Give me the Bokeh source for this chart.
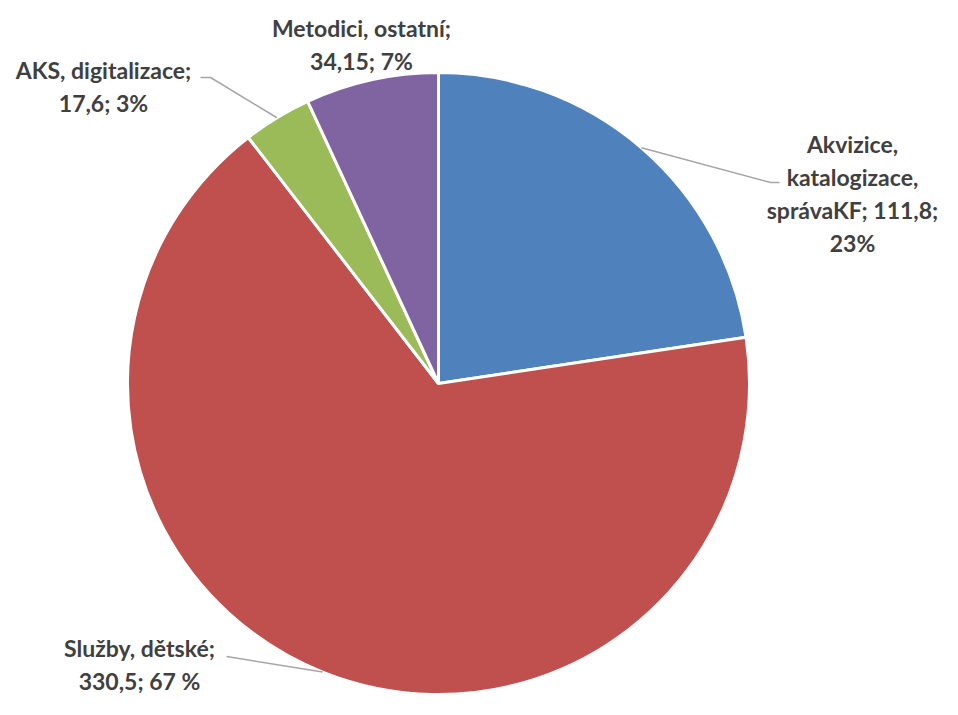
import numpy as np
from bokeh.plotting import figure
from bokeh.models import Range1d, ColumnDataSource
from bokeh.embed import file_html
from bokeh.resources import INLINE
from bokeh.core.properties import value

# ---- data ----
categories = ["Akvizice, katalogizace, správaKF", "Služby, dětské", "AKS, digitalizace", "Metodici, ostatní"]
values = [111.8, 330.5, 17.6, 34.15]
value_labels = ["111,8", "330,5", "17,6", "34,15"]
pct_labels = ["23%", "67 %", "3%", "7%"]
colors = ["#4F81BD", "#C0504D", "#9BBB59", "#8064A2"]

label_texts = [
    "Akvizice,\nkatalogizace,\nsprávaKF; " + value_labels[0] + ";\n" + pct_labels[0],
    "Služby, dětské;\n" + value_labels[1] + "; " + pct_labels[1],
    "AKS, digitalizace;\n" + value_labels[2] + "; " + pct_labels[2],
    "Metodici, ostatní;\n" + value_labels[3] + "; " + pct_labels[3],
]

# ---- layout (pixel coordinates from the top-left of the figure) ----
W, H = 942, 699


def sy(y):
    return H - y


CX, CY, R = 438, sy(383), 311
label_pos = [(852, 193), (139, 664), (103, 86), (361, 44)]
leader_elbows = [[(770, 182), (779, 182)], [(226, 656)], [(210, 77), (200, 77)], None]

p = figure(width=W, height=H, output_backend="svg", toolbar_location=None,
           x_range=Range1d(0, W), y_range=Range1d(0, H),
           min_border=0, outline_line_color=None)
p.axis.visible = False
p.grid.visible = False
p.background_fill_color = "white"
p.border_fill_color = "white"

vals = np.array(values, dtype=float)
frac = vals / vals.sum()
cum = np.concatenate([[0], np.cumsum(frac)])
start = np.pi / 2 - cum[:-1] * 2 * np.pi
end = np.pi / 2 - cum[1:] * 2 * np.pi
mid = (start + end) / 2

src = ColumnDataSource(dict(start=start, end=end, color=colors, cat=categories))
p.wedge(x=CX, y=CY, radius=R, start_angle="start", end_angle="end", direction="clock",
        fill_color="color", line_color="white", line_width=3, source=src)

# leader lines
for i, elbows in enumerate(leader_elbows):
    if not elbows:
        continue
    xs = [CX + R * np.cos(mid[i])] + [e[0] for e in elbows]
    ys = [CY + R * np.sin(mid[i])] + [sy(e[1]) for e in elbows]
    p.line(xs, ys, line_color="#A6A6A6", line_width=1.5)

lsrc = ColumnDataSource(dict(x=[lp[0] for lp in label_pos], y=[sy(lp[1]) for lp in label_pos],
                             text=label_texts))
p.text(x="x", y="y", text="text", source=lsrc, text_align="center", text_baseline="middle",
       text_font=value("Lato"), text_font_style="bold", text_font_size="23px",
       text_color="#404040", text_line_height=1.18)

open("out.html", "w").write(file_html(p, INLINE))
